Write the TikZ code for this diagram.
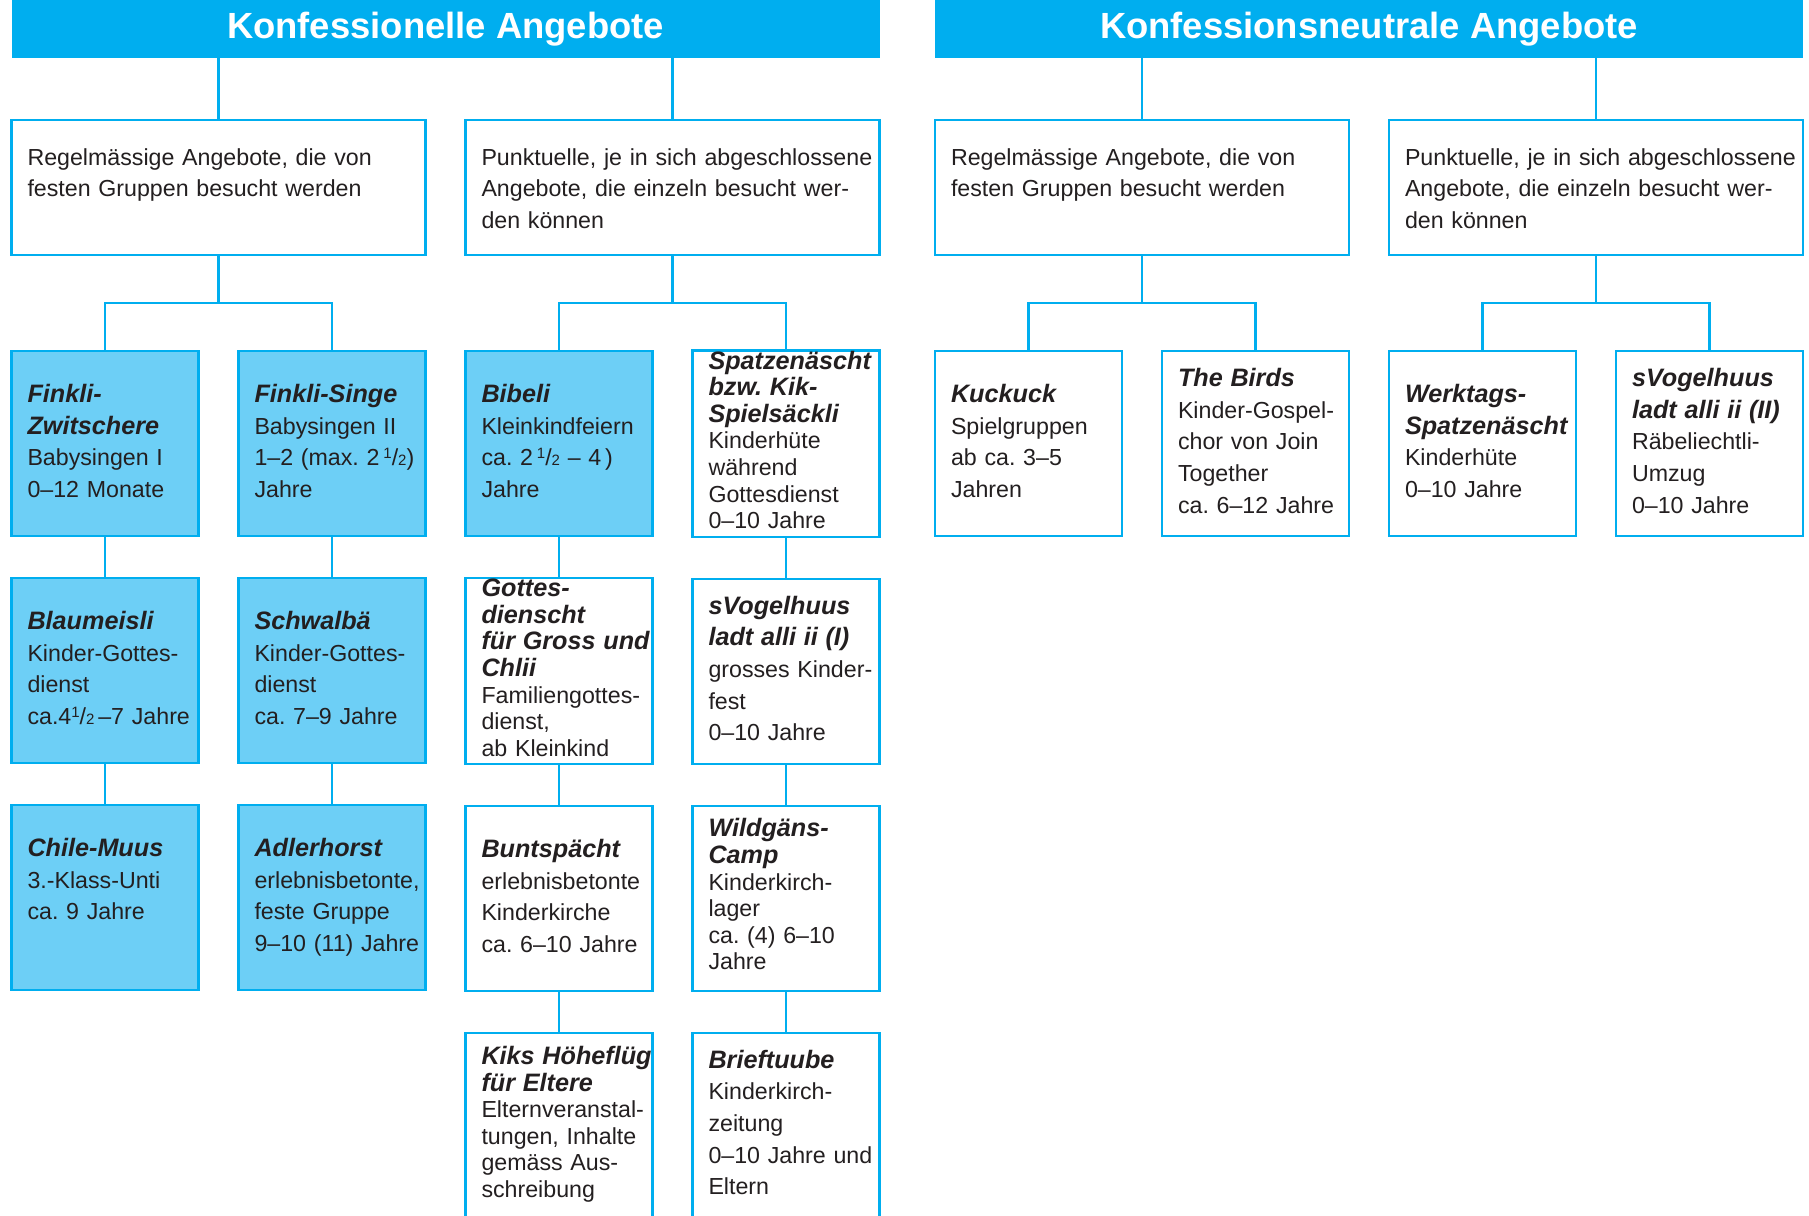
\documentclass[tikz,border=0pt]{standalone}
\usepackage{fontspec}
\setmainfont{Liberation Sans}
\usepackage{xcolor}
\usepackage{tikz}
\usetikzlibrary{positioning}
\definecolor{headcyan}{HTML}{00AEEF}
\definecolor{softcyan}{HTML}{6DCFF6}
\definecolor{ink}{HTML}{231F20}
\frenchspacing
\newcommand{\ttl}[1]{{\fontsize{12.6}{15.8}\selectfont\bfseries\itshape #1}}
\newcommand{\halb}{\raisebox{0.55ex}{\fontsize{7.5}{8}\selectfont 1}/{\fontsize{7.5}{8}\selectfont 2}}
\newcommand{\boxlines}[1]{\begin{tabular}[t]{@{}l@{}}#1\end{tabular}}
\tikzset{
    every picture/.style={line join=miter},
    headbar/.style={fill=headcyan,text=white,minimum width=434pt,minimum height=29pt,
      inner sep=0pt,outer sep=0pt,font=\fontsize{18.2}{22}\selectfont\bfseries},
    groupbox/.style={draw=headcyan,fill=white,line width=1.1pt,text width=191pt,
      inner xsep=8pt,inner ysep=0pt,outer sep=0pt,text height=22.5pt,text depth=45pt,
      align=left,text=ink,font=\fontsize{11.6}{15.8}\selectfont},
    offerbox/.style={draw=headcyan,fill=white,line width=1.1pt,text width=77.5pt,
      minimum height=92.5pt,inner xsep=8pt,inner ysep=0pt,outer sep=0pt,
      align=left,text=ink,font=\fontsize{11.6}{15.8}\selectfont},
    filled/.style={fill=softcyan},
    tight/.style={font=\fontsize{11.6}{13.3}\selectfont},
    link/.style={draw=headcyan,line width=1.1pt}
}
\begin{document}
\begin{tikzpicture}
    \useasboundingbox (0,0) rectangle (904.5pt,-607.5pt);
    \clip (0,0) rectangle (904.5pt,-607.5pt);
    % headers
    \node[headbar,anchor=north west] (konf) at (5.75pt,0pt) {Konfessionelle Angebote};
    \node[headbar,right=27.75pt of konf] (neut) {Konfessionsneutrale Angebote};
    % group boxes
    \node[groupbox,below right=31pt and 0pt of konf.south west] (regK)
      {\boxlines{Regelmässige Angebote, die von\\festen Gruppen besucht werden}};
    \node[groupbox,right=20pt of regK] (punK)
      {\boxlines{Punktuelle, je in sich abgeschlossene\\Angebote, die einzeln besucht wer-\\den können}};
    \node[groupbox,below right=31pt and 0pt of neut.south west] (regN)
      {\boxlines{Regelmässige Angebote, die von\\festen Gruppen besucht werden}};
    \node[groupbox,right=20pt of regN] (punN)
      {\boxlines{Punktuelle, je in sich abgeschlossene\\Angebote, die einzeln besucht wer-\\den können}};
    % konfessionell, regelmaessig
    \node[offerbox,filled,below right=48pt and 0pt of regK.south west] (fink)
      {\boxlines{\ttl{Finkli-}\\\ttl{Zwitschere}\\Babysingen I\\0–12 Monate}};
    \node[offerbox,filled,right=20pt of fink] (singe)
      {\boxlines{\ttl{Finkli-Singe}\\Babysingen II\\1–2 (max. 2\,\halb)\\Jahre}};
    \node[offerbox,filled,below=21pt of fink] (blau)
      {\boxlines{\ttl{Blaumeisli}\\Kinder-Gottes-\\dienst\\ca.4\halb\,–7 Jahre}};
    \node[offerbox,filled,below=21pt of singe] (schwalb)
      {\boxlines{\ttl{Schwalbä}\\Kinder-Gottes-\\dienst\\ca. 7–9 Jahre}};
    \node[offerbox,filled,below=21pt of blau] (chile)
      {\boxlines{\ttl{Chile-Muus}\\3.-Klass-Unti\\ca. 9 Jahre\\\strut}};
    \node[offerbox,filled,below=21pt of schwalb] (adler)
      {\boxlines{\ttl{Adlerhorst}\\erlebnisbetonte,\\feste Gruppe\\9–10 (11) Jahre}};
    % konfessionell, punktuell
    \node[offerbox,filled,below right=48pt and 0pt of punK.south west] (bibeli)
      {\boxlines{\ttl{Bibeli}\\Kleinkindfeiern\\ca. 2\,\halb\ – 4\,)\\Jahre}};
    \node[offerbox,tight,right=20pt of bibeli] (spatz)
      {\boxlines{\ttl{Spatzenäscht}\\\ttl{bzw. Kik-}\\\ttl{Spielsäckli}\\Kinderhüte\\während\\Gottesdienst\\0–10 Jahre}};
    \node[offerbox,tight,below=21pt of bibeli] (gottes)
      {\boxlines{\ttl{Gottes-}\\\ttl{dienscht}\\\ttl{für Gross und}\\\ttl{Chlii}\\Familiengottes-\\dienst,\\ab Kleinkind}};
    \node[offerbox,below=21pt of spatz] (vogelA)
      {\boxlines{\ttl{sVogelhuus}\\\ttl{ladt alli ii (I)}\\grosses Kinder-\\fest\\0–10 Jahre}};
    \node[offerbox,below=21pt of gottes] (bunt)
      {\boxlines{\ttl{Buntspächt}\\erlebnisbetonte\\Kinderkirche\\ca. 6–10 Jahre}};
    \node[offerbox,tight,below=21pt of vogelA] (wild)
      {\boxlines{\ttl{Wildgäns-}\\\ttl{Camp}\\Kinderkirch-\\lager\\ca. (4) 6–10\\Jahre}};
    \node[offerbox,tight,below=21pt of bunt] (kiks)
      {\boxlines{\ttl{Kiks Höheflüg}\\\ttl{für Eltere}\\Elternveranstal-\\tungen, Inhalte\\gemäss Aus-\\schreibung}};
    \node[offerbox,below=21pt of wild] (brief)
      {\boxlines{\ttl{Brieftuube}\\Kinderkirch-\\zeitung\\0–10 Jahre und\\Eltern}};
    % konfessionsneutral
    \node[offerbox,below right=48pt and 0pt of regN.south west] (kuck)
      {\boxlines{\ttl{Kuckuck}\\Spielgruppen\\ab ca. 3–5\\Jahren}};
    \node[offerbox,right=20pt of kuck] (birds)
      {\boxlines{\ttl{The Birds}\\Kinder-Gospel-\\chor von Join\\Together\\ca. 6–12 Jahre}};
    \node[offerbox,below right=48pt and 0pt of punN.south west] (werk)
      {\boxlines{\ttl{Werktags-}\\\ttl{Spatzenäscht}\\Kinderhüte\\0–10 Jahre}};
    \node[offerbox,right=20pt of werk] (vogelB)
      {\boxlines{\ttl{sVogelhuus}\\\ttl{ladt alli ii (II)}\\Räbeliechtli-\\Umzug\\0–10 Jahre}};
    % connectors
    \draw[link] (regK.north) -- (regK.north |- konf.south);
    \draw[link] (punK.north) -- (punK.north |- konf.south);
    \draw[link] (regN.north) -- (regN.north |- neut.south);
    \draw[link] (punN.north) -- (punN.north |- neut.south);
    \draw[link] (regK.south) -- ++(0,-24pt) -| (fink.north);
    \draw[link] (regK.south) -- ++(0,-24pt) -| (singe.north);
    \draw[link] (punK.south) -- ++(0,-24pt) -| (bibeli.north);
    \draw[link] (punK.south) -- ++(0,-24pt) -| (spatz.north);
    \draw[link] (regN.south) -- ++(0,-24pt) -| (kuck.north);
    \draw[link] (regN.south) -- ++(0,-24pt) -| (birds.north);
    \draw[link] (punN.south) -- ++(0,-24pt) -| (werk.north);
    \draw[link] (punN.south) -- ++(0,-24pt) -| (vogelB.north);
    \draw[link] (fink.south) -- (blau.north);
    \draw[link] (blau.south) -- (chile.north);
    \draw[link] (singe.south) -- (schwalb.north);
    \draw[link] (schwalb.south) -- (adler.north);
    \draw[link] (bibeli.south) -- (gottes.north);
    \draw[link] (gottes.south) -- (bunt.north);
    \draw[link] (bunt.south) -- (kiks.north);
    \draw[link] (spatz.south) -- (vogelA.north);
    \draw[link] (vogelA.south) -- (wild.north);
    \draw[link] (wild.south) -- (brief.north);
\end{tikzpicture}
\end{document}
